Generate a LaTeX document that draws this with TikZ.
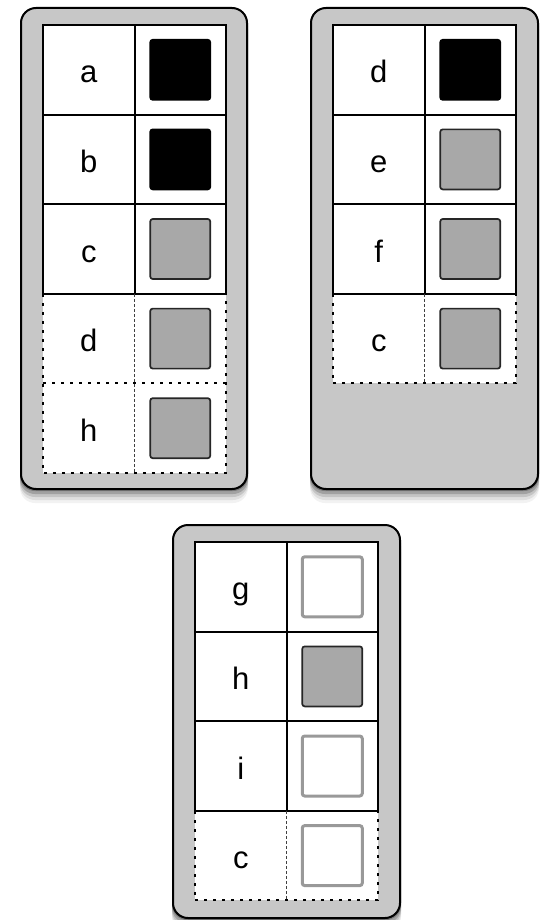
\documentclass[tikz,border=0pt]{standalone}
\usepackage{fontspec}
\setmainfont{Liberation Sans}
\usepackage{tikz}
\usetikzlibrary{positioning, backgrounds}

\begin{document}
\begin{tikzpicture}[x=1pt, y=-1pt,
  panel/.style={draw=black, line width=2pt, fill=black!22, rounded corners=15pt,
    inner sep=0pt, outer sep=0pt},
  shade/.style={fill=black, rounded corners=15pt},
  cell/.style={fill=white, line width=2pt, minimum width=91.5pt, minimum height=89.6pt,
    inner sep=0pt, outer sep=0pt, text height=26pt, text depth=0pt,
    font=\fontsize{31}{31}\selectfont},
  fixedrow/.style={draw=black},
  freerow/.style={draw=none},
  dashedline/.style={line width=2pt, dash pattern=on 3pt off 6pt},
  midline/.style={line width=1.1pt, black!75, dash pattern=on 3pt off 2pt},
  swatch/.style={minimum size=60pt, inner sep=0pt, rounded corners=2.5pt, line width=1.7pt},
  swblack/.style={swatch, fill=black, draw=black},
  swgray/.style={swatch, fill=black!34, draw=black!85},
  swblank/.style={swatch, fill=white, draw=black!40, line width=3pt}]

  \useasboundingbox (0,0) rectangle (542,920);

  % panels
  \node[panel, minimum width=226pt, minimum height=481pt] (box1) at (134,248.5) {};
  \node[panel, minimum width=227pt, minimum height=481pt] (box2) at (424.5,248.5) {};
  \node[panel, minimum width=227pt, minimum height=393pt] (box3) at (286.5,721.5) {};

  % shadows
  \begin{scope}[on background layer]
    \foreach \b in {box1, box2, box3}
      \foreach \d/\o in {14/0.05, 11/0.08, 8/0.12, 5/0.18, 2/0.25}
        \fill[shade, opacity=\o] ([shift={(-1,\d-2)}]\b.north west) rectangle ([shift={(1,\d)}]\b.south east);
  \end{scope}

  % first table
  \foreach \i/\lab/\sw/\row in {5/h/swgray/freerow, 4/d/swgray/freerow, 3/c/swgray/fixedrow,
                                2/b/swblack/fixedrow, 1/a/swblack/fixedrow} {
    \node[cell, \row] (La\i) at (88.75, {25+89.6*(\i-0.5)}) {\lab};
    \node[cell, \row, right=0pt of La\i] (Ra\i) {};
    \node[\sw] (Sa\i) at (Ra\i) {};
  }
  \draw[dashedline] (La4.north west) -- (La5.south west) -- (Ra5.south east) -- (Ra4.north east);
  \draw[dashedline] (La5.north west) -- (Ra5.north east);
  \draw[midline] (Ra4.north west) -- (Ra5.south west);

  % second table
  \foreach \i/\lab/\sw/\row in {4/c/swgray/freerow, 3/f/swgray/fixedrow,
                                2/e/swgray/fixedrow, 1/d/swblack/fixedrow} {
    \node[cell, \row] (Lb\i) at (378.75, {25+89.6*(\i-0.5)}) {\lab};
    \node[cell, \row, right=0pt of Lb\i] (Rb\i) {};
    \node[\sw] (Sb\i) at (Rb\i) {};
  }
  \draw[dashedline] (Lb4.north west) -- (Lb4.south west) -- (Rb4.south east) -- (Rb4.north east);
  \draw[midline] (Rb4.north west) -- (Rb4.south west);

  % third table
  \foreach \i/\lab/\sw/\row in {4/c/swblank/freerow, 3/i/swblank/fixedrow,
                                2/h/swgray/fixedrow, 1/g/swblank/fixedrow} {
    \node[cell, \row] (Lc\i) at (240.75, {542+89.6*(\i-0.5)}) {\lab};
    \node[cell, \row, right=0pt of Lc\i] (Rc\i) {};
    \node[\sw] (Sc\i) at (Rc\i) {};
  }
  \draw[dashedline] (Lc4.north west) -- (Lc4.south west) -- (Rc4.south east) -- (Rc4.north east);
  \draw[midline] (Rc4.north west) -- (Rc4.south west);
\end{tikzpicture}
\end{document}
